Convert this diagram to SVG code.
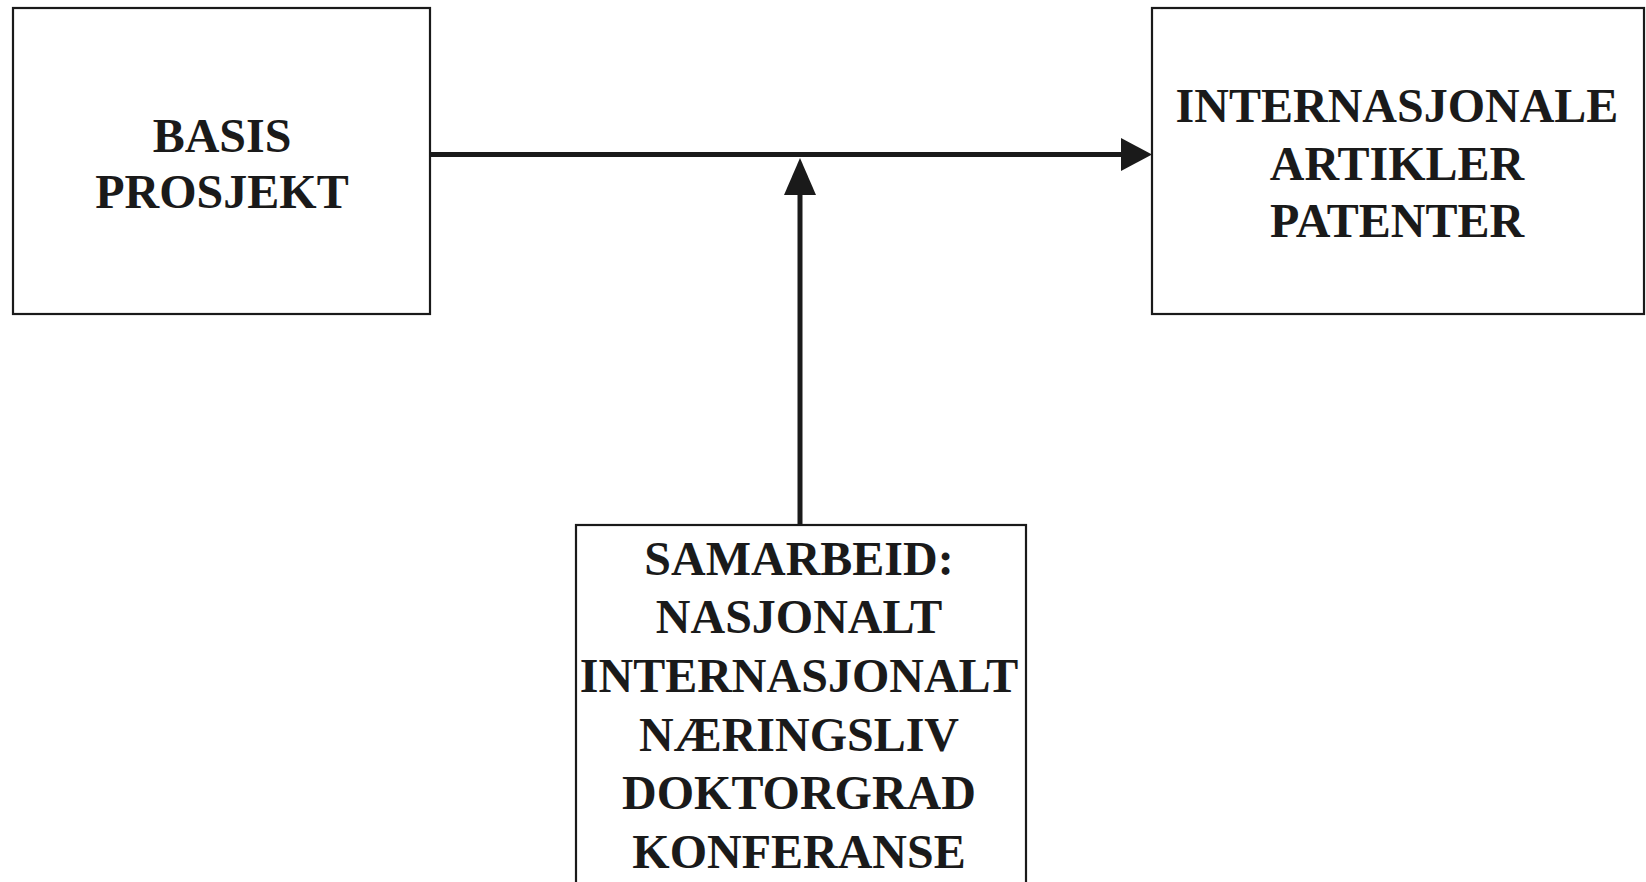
<svg xmlns="http://www.w3.org/2000/svg" width="1646" height="882" viewBox="0 0 1646 882">
<defs>
<style>
.box{fill:#fff;stroke:#1a1a1a;stroke-width:2.2}
.lbl{font-family:"Liberation Serif","Times New Roman",serif;font-weight:bold;font-size:48px;fill:#1a1a1a;text-anchor:middle}
.con{stroke:#1a1a1a;stroke-width:5;fill:none}
.head{fill:#1a1a1a}
</style>
</defs>
<rect width="1646" height="882" fill="#fff"/>
<g id="basis">
<rect class="box" x="13" y="8" width="417" height="306"/>
<text class="lbl" x="222" y="152">BASIS</text>
<text class="lbl" x="222" y="208">PROSJEKT</text>
</g>
<g id="internasjonale">
<rect class="box" x="1152" y="8" width="492" height="306"/>
<text class="lbl" x="1397" y="122">INTERNASJONALE</text>
<text class="lbl" x="1397" y="180">ARTIKLER</text>
<text class="lbl" x="1397" y="237">PATENTER</text>
</g>
<g id="samarbeid">
<rect class="box" x="576" y="525" width="450" height="370"/>
<text class="lbl" x="799" y="575">SAMARBEID:</text>
<text class="lbl" x="799" y="633">NASJONALT</text>
<text class="lbl" x="799" y="692">INTERNASJONALT</text>
<text class="lbl" x="799" y="751">NÆRINGSLIV</text>
<text class="lbl" x="799" y="809">DOKTORGRAD</text>
<text class="lbl" x="799" y="868">KONFERANSE</text>
</g>
<g id="connectors">
<line class="con" x1="431" y1="154.5" x2="1124" y2="154.5"/>
<polygon class="head" points="1121,138 1152,154.5 1121,171"/>
<line class="con" x1="800" y1="524" x2="800" y2="192"/>
<polygon class="head" points="784,195 800,158 816,195"/>
</g>
</svg>
